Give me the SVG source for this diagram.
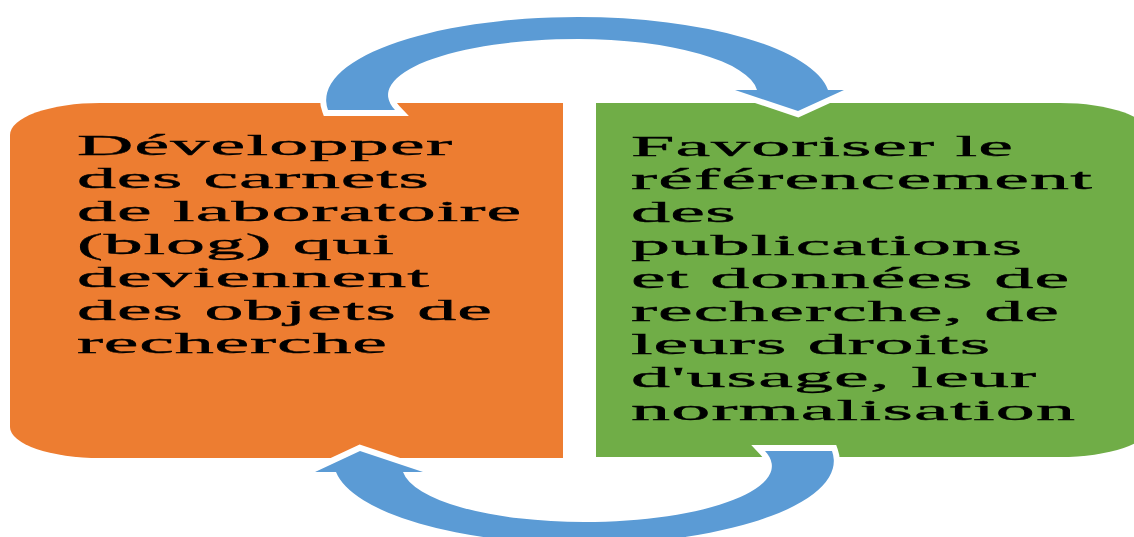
<svg xmlns="http://www.w3.org/2000/svg" width="1134" height="537" viewBox="0 0 1134 537">
<style>
.lbl{font-family:"Liberation Serif","Times New Roman",serif;font-size:30px;fill:#000;stroke:#000;stroke-width:0.4}
.arrow{fill:#5B9BD5;stroke:#FFFFFF;stroke-width:12;paint-order:stroke;stroke-linejoin:miter}
</style>
<rect width="1134" height="537" fill="#FFFFFF"/>
<g id="node-orange">
<path d="M 100 103 L 563 103 L 563 458 L 100 458 A 90 31 0 0 1 10 427 L 10 135 A 90 32 0 0 1 100 103 Z" fill="#ED7D31"/>
<g transform="scale(2.6,1)">
<text class="lbl" x="29.6" y="155" textLength="144.2" lengthAdjust="spacing">Développer</text>
<text class="lbl" x="29.6" y="188" textLength="135.4" lengthAdjust="spacing">des carnets</text>
<text class="lbl" x="29.6" y="221" textLength="170.8" lengthAdjust="spacing">de laboratoire</text>
<text class="lbl" x="29.6" y="254" textLength="121.9" lengthAdjust="spacing">(blog) qui</text>
<text class="lbl" x="29.6" y="287" textLength="135.4" lengthAdjust="spacing">deviennent</text>
<text class="lbl" x="29.6" y="320" textLength="159.6" lengthAdjust="spacing">des objets de</text>
<text class="lbl" x="29.6" y="353" textLength="119.2" lengthAdjust="spacing">recherche</text>
</g>
</g>
<g id="node-green">
<path d="M 596 103 L 1060 103 A 90 32 0 0 1 1150 135 L 1150 426 A 90 31 0 0 1 1060 457 L 596 457 Z" fill="#70AD47"/>
<g transform="scale(2.6,1)">
<text class="lbl" x="242.7" y="156" textLength="146.9" lengthAdjust="spacing">Favoriser le</text>
<text class="lbl" x="242.7" y="189" textLength="177.3" lengthAdjust="spacing">référencement</text>
<text class="lbl" x="242.7" y="222" textLength="40.2" lengthAdjust="spacing">des</text>
<text class="lbl" x="242.7" y="255" textLength="150.4" lengthAdjust="spacing">publications</text>
<text class="lbl" x="242.7" y="288" textLength="168.5" lengthAdjust="spacing">et données de</text>
<text class="lbl" x="242.7" y="321" textLength="164.6" lengthAdjust="spacing">recherche, de</text>
<text class="lbl" x="242.7" y="354" textLength="138.1" lengthAdjust="spacing">leurs droits</text>
<text class="lbl" x="242.7" y="387" textLength="155.8" lengthAdjust="spacing">d'usage, leur</text>
<text class="lbl" x="242.7" y="420" textLength="170.8" lengthAdjust="spacing">normalisation</text>
</g>
</g>
<g id="connectors">
<path class="arrow" d="M 328 110 A 252 83 0 0 1 578 17 A 252 83 0 0 1 828 90 L 844 90 L 798 111 L 735 90 L 757 90 A 180 56 0 0 0 578 39 A 190 56 0 0 0 395 110 Z"/>
<path class="arrow" d="M 832 451 A 250 83 0 0 1 584 544 A 250 83 0 0 1 336 472 L 315 472 L 360 451 L 423 472 L 403 472 A 182 56 0 0 0 584 522 A 188 56 0 0 0 765 451 Z"/>
</g>
</svg>
